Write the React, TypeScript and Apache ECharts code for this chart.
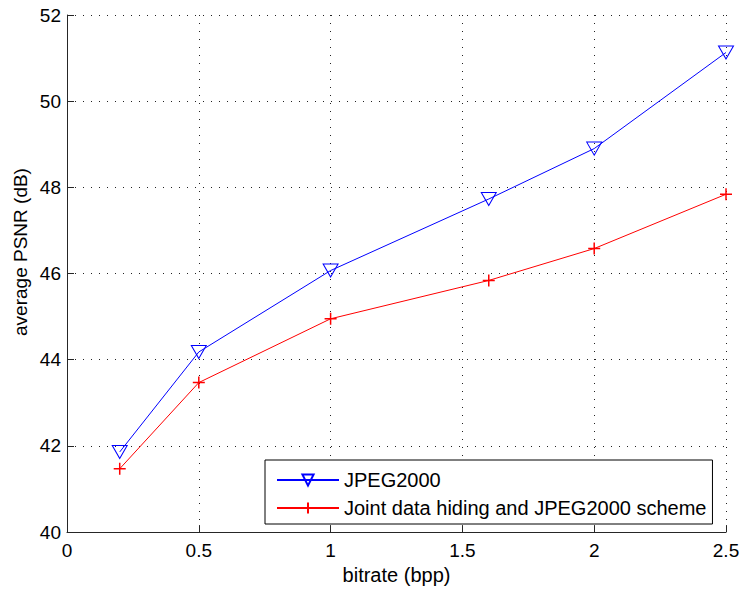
import React, { useEffect, useRef } from "react";
import * as echarts from "echarts";

const bitrates = [0.2, 0.5, 1, 1.6, 2, 2.5];
const jpeg2000 = [41.86, 44.18, 46.07, 47.73, 48.9, 51.13];
const jointScheme = [41.47, 43.47, 44.95, 45.84, 46.58, 47.84];
const seriesNames = ["JPEG2000", "Joint data hiding and JPEG2000 scheme"];
const xLabel = "bitrate (bpp)";
const yLabel = "average PSNR (dB)";

const FONT = "'Liberation Sans', Arial, Helvetica, sans-serif";

export default function App() {
  const ref = useRef<HTMLDivElement>(null);
  useEffect(() => {
    document.body.style.margin = "0";
    const chart = echarts.init(ref.current!, null, { renderer: "svg" });
    const axisColor = "#262626";
    const gridLine = { show: true, lineStyle: { color: "#222", type: [1, 7] as any, width: 1 } };
    chart.setOption({
      animation: false,
      backgroundColor: "#fff",
      textStyle: { fontFamily: FONT },
      grid: { left: 67, top: 15, right: 17, bottom: 55 },
      legend: {
        orient: "vertical",
        left: 265,
        top: 460,
        padding: [10, 6, 6, 11],
        itemWidth: 62,
        itemHeight: 14,
        itemGap: 8,
        borderColor: "#000",
        borderWidth: 1,
        backgroundColor: "#fff",
        textStyle: { fontSize: 20, color: "#000", fontFamily: FONT },
        data: seriesNames,
      },
      graphic: [
        {
          type: "text",
          x: 20,
          y: 252,
          rotation: Math.PI / 2,
          style: {
            text: yLabel,
            fontSize: 19,
            fontFamily: FONT,
            fill: "#000",
            align: "center",
            verticalAlign: "middle",
          },
        },
      ],
      xAxis: {
        type: "value",
        min: 0,
        max: 2.5,
        interval: 0.5,
        name: xLabel,
        nameLocation: "middle",
        nameGap: 32,
        nameTextStyle: { fontSize: 20, color: "#000", fontFamily: FONT },
        axisLine: { show: true, lineStyle: { color: axisColor, width: 1 } },
        axisTick: { show: true, inside: true, length: 7, lineStyle: { color: axisColor } },
        axisLabel: { fontSize: 19, color: "#000", margin: 9, fontFamily: FONT },
        splitLine: gridLine,
      },
      yAxis: {
        type: "value",
        min: 40,
        max: 52,
        interval: 2,
        axisLine: { show: true, lineStyle: { color: axisColor, width: 1 } },
        axisTick: { show: true, inside: true, length: 7, lineStyle: { color: axisColor } },
        axisLabel: { fontSize: 19, color: "#000", margin: 6, fontFamily: FONT },
        splitLine: gridLine,
      },
      series: [
        {
          name: seriesNames[0],
          type: "line",
          data: bitrates.map((x, i) => [x, jpeg2000[i]]),
          symbol: "triangle",
          symbolRotate: 180,
          symbolSize: [15, 13],
          showAllSymbol: true,
          lineStyle: { color: "#0000ff", width: 1 },
          itemStyle: { color: "rgba(0,0,0,0)", borderColor: "#0000ff", borderWidth: 1 },
        },
        {
          name: seriesNames[1],
          type: "line",
          data: bitrates.map((x, i) => [x, jointScheme[i]]),
          symbol: "path://M5,0 L5,10 M0,5 L10,5",
          symbolSize: 12,
          showAllSymbol: true,
          lineStyle: { color: "#ff0000", width: 1 },
          itemStyle: { color: "rgba(0,0,0,0)", borderColor: "#ff0000", borderWidth: 1.5 },
        },
      ],
    });
    return () => chart.dispose();
  }, []);
  return <div ref={ref} style={{ width: 743, height: 590 }} />;
}
